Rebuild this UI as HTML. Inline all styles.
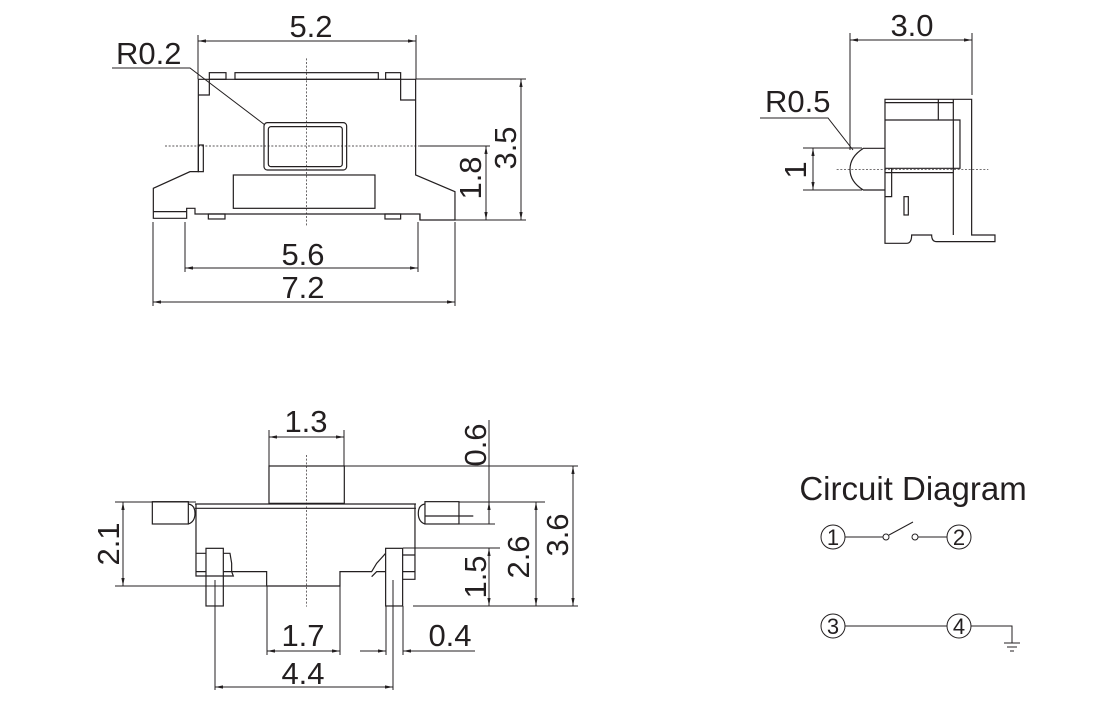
<!DOCTYPE html>
<html><head><meta charset="utf-8"><style>
html,body{margin:0;padding:0;background:#fff;}
svg{display:block;}
text{font-family:"Liberation Sans",sans-serif;fill:#231f20;}
</style></head><body>
<svg width="1120" height="716" viewBox="0 0 1120 716" xmlns="http://www.w3.org/2000/svg">
<defs>
<marker id="a" viewBox="0 0 10 10" refX="10" refY="5" markerWidth="8" markerHeight="8" orient="auto-start-reverse"><path d="M0,3 L10,5 L0,7z" fill="#231f20"/></marker>
</defs>
<g stroke="#231f20" fill="none">
<g transform="translate(140,40) scale(0.3333)" stroke-width="3.6">
<path d="M175,118 H827 V405 L945,455 V540 H840 V522 H827 V522 H165 V505 H140 V535 H40 V445 L150,395 H175 Z"/>
<rect x="208" y="98" width="50" height="20"/><rect x="285" y="98" width="430" height="20"/><rect x="737" y="98" width="45" height="20"/>
<path d="M175,165 H208 V118"/><path d="M782,118 V180 H827"/>
<rect x="175" y="315" width="15" height="80"/>
<rect x="372" y="248" width="248" height="142" rx="10"/><rect x="385" y="260" width="222" height="120" rx="8"/>
<rect x="280" y="405" width="425" height="100"/>
<rect x="205" y="522" width="50" height="15"/><rect x="735" y="522" width="47" height="15"/>
<path d="M40,515 H140 M840,522 V540" />
<path d="M500,55 V560 M75,318 H1050" stroke-dasharray="6,5" stroke-width="2"/>
</g>
<g stroke-width="1">
<path d="M198,79 V35 M416,79 V35"/><path d="M198,41 H416" marker-start="url(#a)" marker-end="url(#a)"/>
<path d="M112,68 H190 L265,125"/>
<path d="M416,79 H526 M430,220 H526 M420,146 H490"/>
<path d="M521,79 V220" marker-start="url(#a)" marker-end="url(#a)"/>
<path d="M486,146 V220" marker-start="url(#a)" marker-end="url(#a)"/>
<path d="M153,222 V306 M455,222 V306 M185,222 V272 M418,222 V272"/>
<path d="M185,268 H418" marker-start="url(#a)" marker-end="url(#a)"/>
<path d="M153,302 H455" marker-start="url(#a)" marker-end="url(#a)"/>
</g>
<g transform="translate(750,60) scale(0.3333)" stroke-width="3.6">
<path d="M405,118 H665 V525 H735 V545 H560 Q545,545 545,525 H485 Q485,550 470,550 H405 Z"/>
<path d="M405,128 H610 M565,118 V180 M610,118 V525 M405,180 H630 V325 H405 M405,338 H610 M425,325 V410 H405"/>
<rect x="462" y="410" width="13" height="55"/>
<path d="M405,265 H340 Q300,290 300,328 Q300,365 340,390 H405"/>
<path d="M260,328 H715" stroke-dasharray="6,5" stroke-width="2"/>
</g>
<g stroke-width="1">
<path d="M850,150 V33 M972,95 V33"/><path d="M850,40 H972" marker-start="url(#a)" marker-end="url(#a)"/>
<path d="M760,118 H828 L853,150"/>
<path d="M803,148 H862 M803,190 H862"/><path d="M813,148 V190" marker-start="url(#a)" marker-end="url(#a)"/>
</g>
<g transform="translate(100,420) scale(0.3333)" stroke-width="3.6">
<rect x="507" y="138" width="226" height="112"/>
<rect x="157" y="245" width="108" height="67"/><rect x="975" y="245" width="102" height="67"/>
<path d="M265,252 Q285,255 285,280 Q285,305 265,312 M975,252 Q955,255 955,280 Q955,305 975,312 M975,288 H1120"/>
<path d="M285,252 H948 M285,265 H948 M288,252 V468 H400 L395,455 V430 L390,400 H370 M288,400 H318 M288,455 H318 M370,455 H400 M400,455 H500 V498 H720 V455 H815 L830,430 L857,400 M815,470 L830,455 H857 M945,252 V478 H908 M908,405 H945 M908,455 H945"/>
<rect x="318" y="385" width="52" height="173"/><rect x="857" y="385" width="51" height="173"/>
<path d="M620,105 V560" stroke-dasharray="6,5" stroke-width="2"/>
</g>
<g stroke-width="1">
<path d="M269,430 V466 M344,430 V466"/><path d="M269,437 H344" marker-start="url(#a)" marker-end="url(#a)"/>
<path d="M115,502 H196 M115,586 H266"/><path d="M123,502 V586" marker-start="url(#a)" marker-end="url(#a)"/>
<path d="M344,466 H578 M459,502 H545 M445,524 H495 M403,548 H500 M413,606 H578"/>
<path d="M489,420 V466" /><path d="M489,502 V524" marker-start="url(#a)"/>
<path d="M489,466 V502" /><path d="M489,548 V606" marker-start="url(#a)" marker-end="url(#a)"/>
<path d="M536,502 V606" marker-start="url(#a)" marker-end="url(#a)"/>
<path d="M573,466 V606" marker-start="url(#a)" marker-end="url(#a)"/>
<path d="M267,586 V655 M340,586 V655"/><path d="M267,651 H340" marker-start="url(#a)" marker-end="url(#a)"/>
<path d="M215,580 V690 M393,580 V690"/><path d="M215,687 H393" marker-start="url(#a)" marker-end="url(#a)"/>
<path d="M386,606 V655 M403,606 V655"/>
<path d="M360,651 H386" marker-end="url(#a)"/><path d="M475,651 H403" marker-end="url(#a)"/>
</g>
<g stroke-width="1">
<circle cx="833" cy="537" r="12"/><circle cx="959" cy="537" r="12"/>
<circle cx="833" cy="626" r="12"/><circle cx="959" cy="626" r="12"/>
<path d="M845,537 H883 M918,537 H947 M889,535 L913,522 M845,626 H947 M971,626 H1012 V643 M1004,643 H1020 M1007,647 H1017 M1010,651 H1014"/>
<circle cx="886" cy="537" r="3"/><circle cx="915" cy="537" r="3"/>
</g>
</g>
<g font-size="31">
<text x="311" y="37" text-anchor="middle">5.2</text>
<text x="116" y="64">R0.2</text>
<text x="303" y="265" text-anchor="middle">5.6</text>
<text x="303" y="298" text-anchor="middle">7.2</text>
<text transform="translate(516,148) rotate(-90)" text-anchor="middle">3.5</text>
<text transform="translate(481,178) rotate(-90)" text-anchor="middle">1.8</text>
<text x="912" y="36" text-anchor="middle">3.0</text>
<text x="765" y="112">R0.5</text>
<text transform="translate(806,170) rotate(-90)" text-anchor="middle">1</text>
<text x="306" y="432" text-anchor="middle">1.3</text>
<text transform="translate(119,544) rotate(-90)" text-anchor="middle">2.1</text>
<text transform="translate(486,445) rotate(-90)" text-anchor="middle">0.6</text>
<text transform="translate(486,577) rotate(-90)" text-anchor="middle">1.5</text>
<text transform="translate(529,557) rotate(-90)" text-anchor="middle">2.6</text>
<text transform="translate(568,535) rotate(-90)" text-anchor="middle">3.6</text>
<text x="303" y="646" text-anchor="middle">1.7</text>
<text x="450" y="646" text-anchor="middle">0.4</text>
<text x="303" y="684" text-anchor="middle">4.4</text>
</g>
<text x="913" y="500" font-size="33" text-anchor="middle">Circuit Diagram</text>
<g font-size="22" text-anchor="middle">
<text x="833" y="545">1</text><text x="959" y="545">2</text>
<text x="833" y="634">3</text><text x="959" y="634">4</text>
</g>
</svg>
</body></html>
